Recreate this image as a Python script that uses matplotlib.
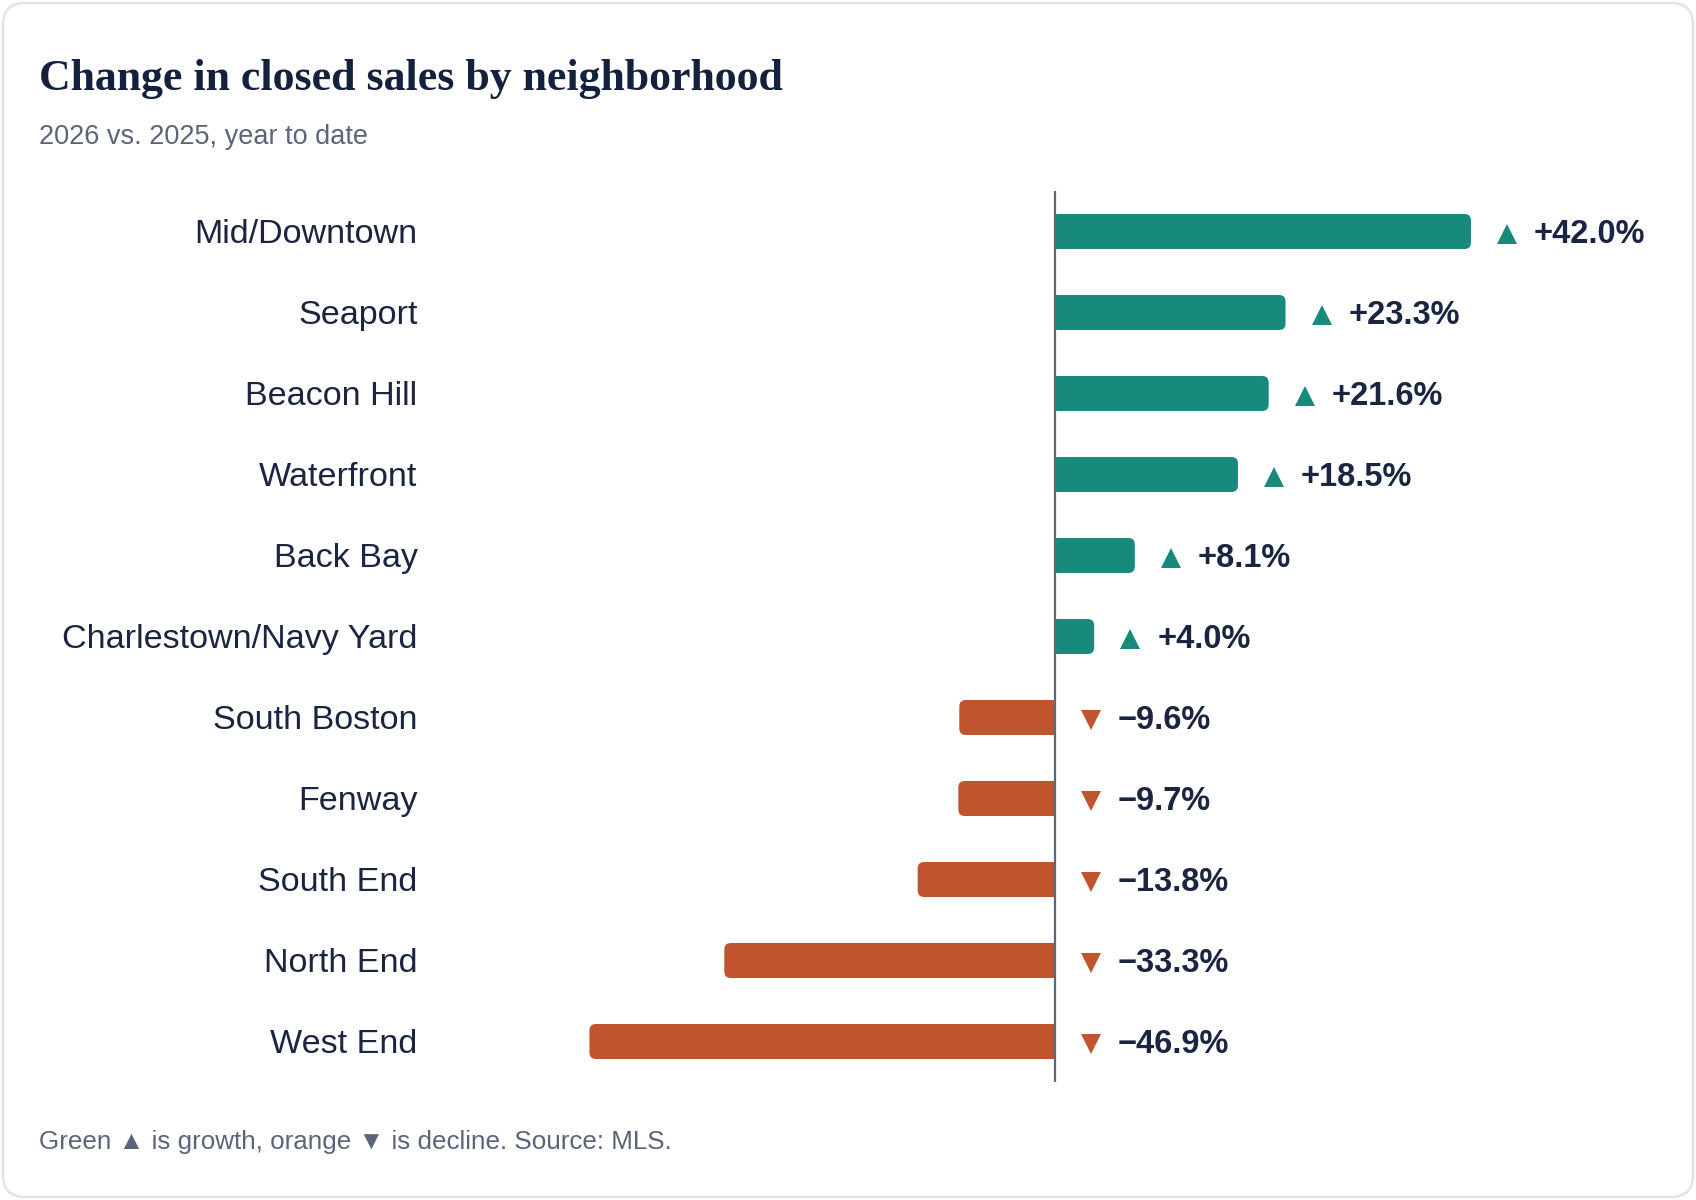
import matplotlib
matplotlib.use("Agg")
import matplotlib.pyplot as plt
from matplotlib.patches import FancyBboxPatch, Rectangle
from matplotlib.transforms import ScaledTranslation

# ---- data ----
neighborhoods = ["Mid/Downtown", "Seaport", "Beacon Hill", "Waterfront", "Back Bay",
                 "Charlestown/Navy Yard", "South Boston", "Fenway", "South End",
                 "North End", "West End"]
pct_change = [42.0, 23.3, 21.6, 18.5, 8.1, 4.0, -9.6, -9.7, -13.8, -33.3, -46.9]

title = "Change in closed sales by neighborhood"
subtitle = "2026 vs. 2025, year to date"
footnote = "Green \u25B2 is growth, orange \u25BC is decline. Source: MLS."

GREEN = "#178a7c"
ORANGE = "#c0542f"
INK = "#1b2440"
GRAY = "#5b6478"
AXIS = "#5f6677"

W, H = 1696, 1200
DPI = 100
fig = plt.figure(figsize=(W / DPI, H / DPI), dpi=DPI)
fig.patch.set_facecolor("white")

SANS = ["Liberation Sans", "DejaVu Sans"]

# card border
card = FancyBboxPatch((3 / W, 3 / H), (W - 6) / W, (H - 6) / H,
                      boxstyle="round,pad=0,rounding_size=0.013",
                      transform=fig.transFigure, facecolor="none",
                      edgecolor="#dde1e9", linewidth=1.6,
                      mutation_aspect=W / H, zorder=-10)
fig.patches.append(card)

def fx(x):
    return x / W

def fy(y):
    return 1 - y / H

fig.text(fx(39), fy(90), title, fontsize=31.6, fontweight="bold",
         family=["Liberation Serif", "DejaVu Serif"], color="#14213d",
         ha="left", va="baseline")
fig.text(fx(39), fy(144), subtitle, fontsize=19.5, family=SANS, color=GRAY,
         ha="left", va="baseline")
fig.text(fx(39), fy(1149), footnote, fontsize=18.7, family=SANS, color=GRAY,
         ha="left", va="baseline")

# axes geometry (pixels)
zero_px = 1054.5
px_per_unit = 9.916
ax_left, ax_right = 440, 1660
ax_top, ax_bottom = 191, 1082
ax = fig.add_axes([fx(ax_left), fy(ax_bottom), (ax_right - ax_left) / W,
                   (ax_bottom - ax_top) / H])
ax.set_xlim(-(zero_px - ax_left) / px_per_unit, (ax_right - zero_px) / px_per_unit)
n = len(neighborhoods)
ax.set_ylim(n - 0.5, -0.5)
ax.axis("off")

ypx_per_unit = (ax_bottom - ax_top) / n
aspect = px_per_unit / ypx_per_unit
bar_h = 35 / ypx_per_unit
radius = 6.5 / px_per_unit
baseline_drop = -11.6 * 72 / DPI  # points

marker_shift = ScaledTranslation(36 / DPI, -2 / DPI, fig.dpi_scale_trans)

for i, (name, v) in enumerate(zip(neighborhoods, pct_change)):
    color = GREEN if v >= 0 else ORANGE
    x0 = min(0, v)
    rb = FancyBboxPatch((x0, i - bar_h / 2), abs(v), bar_h,
                        boxstyle=f"round,pad=0,rounding_size={radius}",
                        mutation_aspect=aspect, facecolor=color,
                        edgecolor="none", zorder=2)
    ax.add_patch(rb)
    ax.add_patch(Rectangle((0, i - bar_h / 2), v / 2, bar_h, facecolor=color,
                           edgecolor="none", zorder=2))
    anchor = max(v, 0)
    ax.plot([anchor], [i], linestyle="none", marker="^" if v >= 0 else "v",
            markersize=14, color=color, markeredgewidth=0,
            transform=ax.transData + marker_shift, zorder=3)
    label = f"{v:+.1f}%".replace("-", "\u2212")
    ax.annotate(label, (anchor, i), xytext=(63 * 72 / DPI, baseline_drop),
                textcoords="offset points", ha="left", va="baseline",
                fontsize=23.5, fontweight="bold", family=SANS, color=INK)
    ax.annotate(name, (fx(417.5), i), xycoords=("figure fraction", "data"),
                xytext=(0, baseline_drop), textcoords="offset points",
                ha="right", va="baseline", fontsize=24.6, family=SANS, color=INK)

ax.axvline(0, color=AXIS, linewidth=1.6, zorder=4)

fig.savefig("out.png", dpi=DPI, facecolor="white")
